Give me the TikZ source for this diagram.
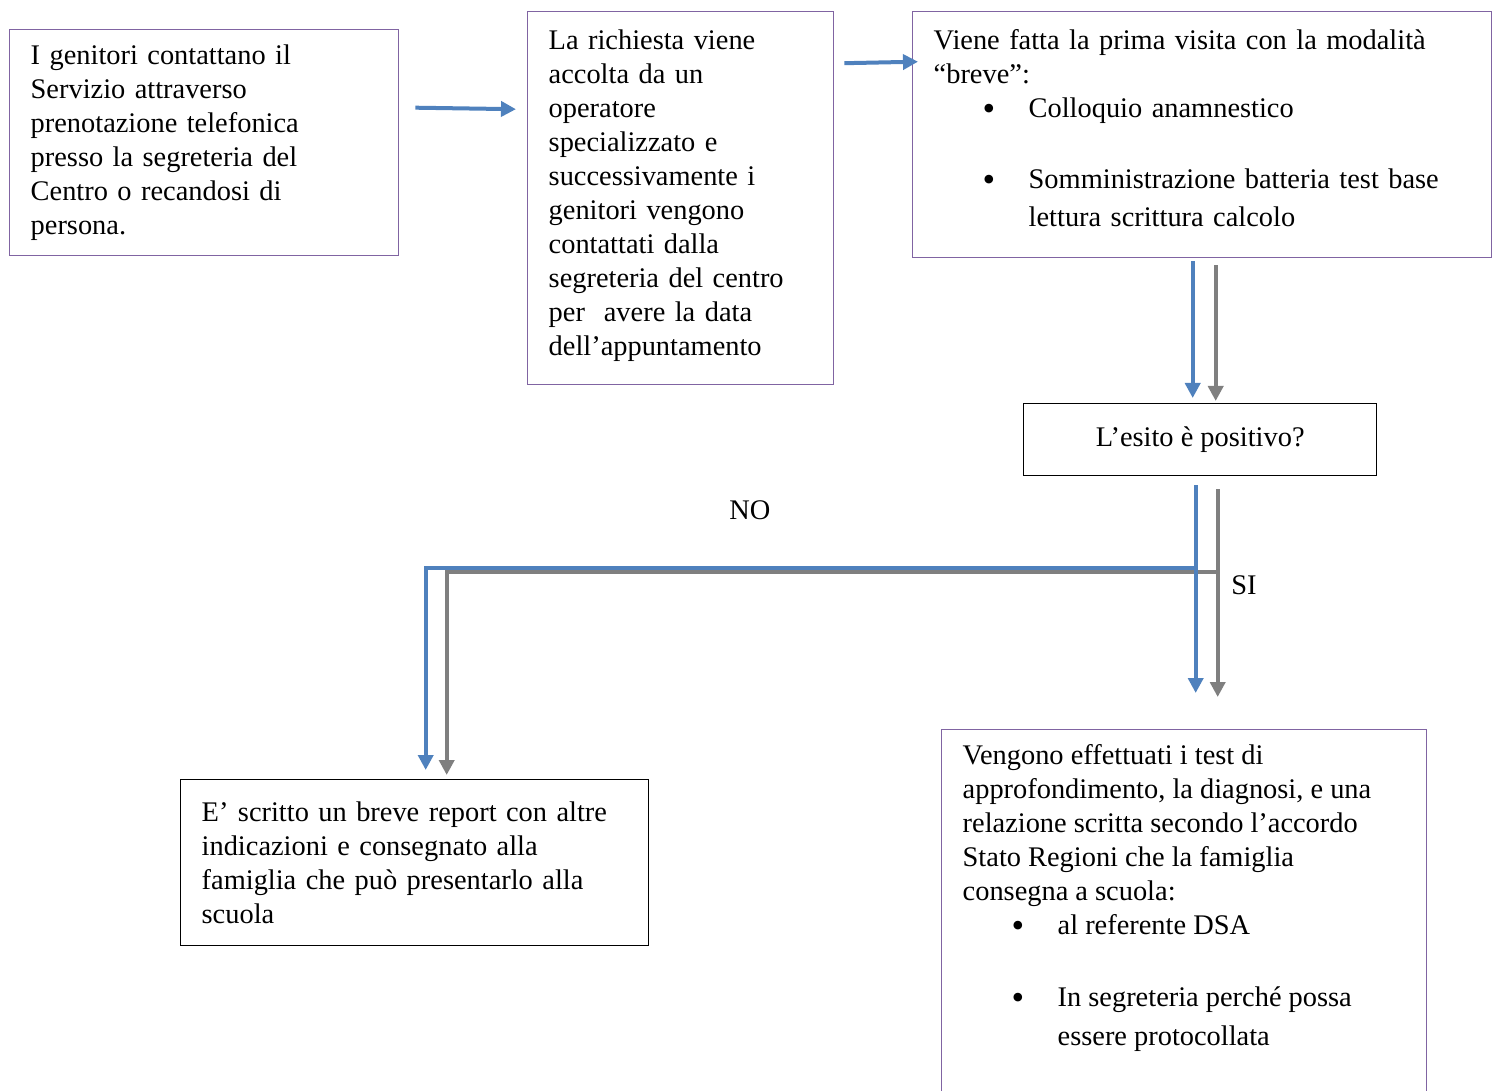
\documentclass[tikz,border=0pt]{standalone}
\usepackage{fontspec}
\setmainfont{Liberation Serif}
\usetikzlibrary{arrows.meta,positioning}

\definecolor{viola}{RGB}{128,100,162}
\definecolor{azzurro}{RGB}{79,129,189}
\definecolor{grigio}{RGB}{127,127,127}

\newcommand{\punto}{\hspace*{24.5pt}\makebox[23pt][l]{\raisebox{-1.5pt}{\fontsize{18}{17}\selectfont\textbullet}}}
\newcommand{\rientro}{\hspace*{47.5pt}}

\tikzset{
    riquadro/.style = {
        rectangle, 
        anchor=north west, 
        align=left, 
        inner xsep=10.5pt, 
        inner ysep=0pt, 
        line width=0.7pt, 
        draw=viola, 
        fill=white
    },
    decisione/.style = {
        rectangle, 
        anchor=north west, 
        align=center, 
        line width=0.7pt, 
        draw=black, 
        fill=white
    },
    esito/.style = {
        riquadro, 
        draw=black
    }
}

\begin{document}
\begin{tikzpicture}[x=0.5pt, y=-0.5pt, every node/.style={font=\fontsize{14.2}{17}\selectfont}] % 1 unit = 1 px

\tikzstyle{frecciablu} = [line width=2pt, draw=azzurro, -{Triangle[width=7.5pt,length=7.5pt]}]
\tikzstyle{frecciagrigia} = [line width=2pt, draw=grigio, -{Triangle[width=7.5pt,length=7.5pt]}]

\useasboundingbox (0,0) rectangle (1496,1091);

\node (genitori) [riquadro, minimum width=194.5pt, minimum height=113pt, text width=173.5pt] at (9,29) {
I genitori contattano il\\
Servizio attraverso\\
prenotazione telefonica\\
presso la segreteria del\\
Centro o recandosi di\\
persona.\\[-14pt]
\mbox{}
};
\node (richiesta) [riquadro, minimum width=153pt, minimum height=186.5pt, text width=132pt] at (527,11) {
La richiesta viene\\
accolta da un\\
operatore\\
specializzato e\\
successivamente i\\
genitori vengono\\
contattati dalla\\
segreteria del centro\\
per\ \ avere la data\\
dell’appuntamento\\[-11pt]
\mbox{}
};
\node (visita) [riquadro, minimum width=289.5pt, minimum height=123pt, text width=268.5pt] at (912,11) {
Viene fatta la prima visita con la modalità\\
“breve”:\\
\punto Colloquio anamnestico\\[18.5pt]
\punto Somministrazione batteria test base\\[2pt]
\rientro lettura scrittura calcolo\\[-10pt]
\mbox{}
};
\node (domanda) [decisione, minimum width=176.5pt, minimum height=36pt] at (1023,403) {L’esito è positivo?};
\node (report) [esito, minimum width=234pt, minimum height=83pt, text width=213pt] at (180,779) {
E’ scritto un breve report con altre\\
indicazioni e consegnato alla\\
famiglia che può presentarlo alla\\
scuola
};
\node (diagnosi) [riquadro, inner ysep=7.5pt, minimum width=242.5pt] at (941,729) {\parbox[t][200pt][t]{221.5pt}{\raggedright
Vengono effettuati i test di\\
approfondimento, la diagnosi, e una\\
relazione scritta secondo l’accordo\\
Stato Regioni che la famiglia\\
consegna a scuola:\\
\punto al referente DSA\\[19pt]
\punto In segreteria perché possa\\[2.5pt]
\rientro essere protocollata
}};

\node (no) at (750,510) {NO};
\node (si) at (1244,585) {SI};

% Arrows
\draw [frecciablu] ([xshift=8pt,yshift=17.5pt]genitori.east) -- ([xshift=-5.5pt,yshift=44.5pt]richiesta.west);
\draw [frecciablu] ([xshift=5pt,yshift=67.5pt]richiesta.east) -- ([xshift=3pt,yshift=36.5pt]visita.west);
\draw [frecciablu] ([xshift=-4.75pt,yshift=-1.5pt]visita.south) -- ([xshift=-3.75pt,yshift=2.5pt]domanda.north);
\draw [frecciagrigia] ([xshift=6.75pt,yshift=-3.5pt]visita.south) -- ([xshift=7.75pt,yshift=1pt]domanda.north);
\draw [frecciagrigia] ([xshift=8.75pt,yshift=-48pt]domanda.south) -| ([xshift=16pt,yshift=2pt]report.north);
\draw [frecciablu] ([xshift=-2.25pt,yshift=-46pt]domanda.south) -| ([xshift=5.5pt,yshift=4.5pt]report.north);
\draw [frecciablu] ([xshift=-2.25pt,yshift=-4.5pt]domanda.south) -- ([xshift=5.75pt,yshift=18pt]diagnosi.north);
\draw [frecciagrigia] ([xshift=8.75pt,yshift=-6.5pt]domanda.south) -- ([xshift=16.75pt,yshift=16pt]diagnosi.north);

\end{tikzpicture}
\end{document}
